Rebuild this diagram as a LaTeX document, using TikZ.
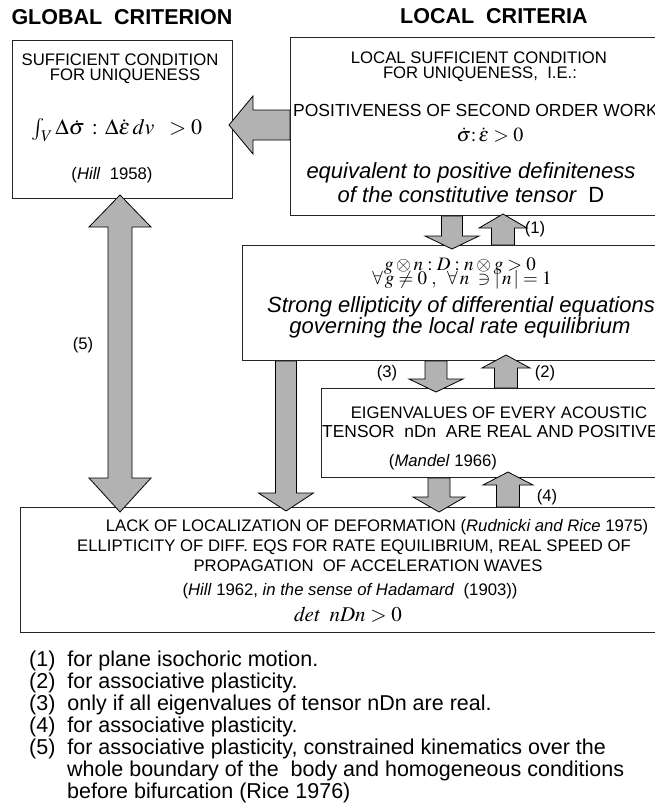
\documentclass[tikz,border=0pt]{standalone}
\usepackage{mathptmx}
\usepackage[no-math]{fontspec}
\setmainfont{Liberation Sans}
\usetikzlibrary{calc}
\definecolor{arrowgray}{gray}{0.70}
\newcommand\vbarrow[6]{% #1 x, #2 tail, #3 tip, #4 shaft half, #5 head half, #6 head length
  \filldraw[barrow] let \p1=(#2), \p2=(#3), \n1={sign(\y2-\y1)} in
   (#1-#4,\y1) -- (#1-#4,\y2-\n1*#6) -- (#1-#5,\y2-\n1*#6) -- (#1,\y2)
   -- (#1+#5,\y2-\n1*#6) -- (#1+#4,\y2-\n1*#6) -- (#1+#4,\y1) -- cycle;}
\tikzset{
  boxline/.style={draw=black!85, line width=0.9pt, inner sep=0pt, anchor=north west},
  barrow/.style={fill=arrowgray, draw=black, line width=0.8pt, line join=miter},
  body/.style={font=\fontsize{16.7}{20}\selectfont, inner sep=0pt},
  bigbody/.style={font=\fontsize{17.5}{21}\selectfont, inner sep=0pt},
  ital/.style={font=\fontsize{22}{26}\selectfont\itshape, inner sep=0pt},
  mth/.style={font=\fontsize{20}{24}\selectfont, inner sep=0pt},
  foot/.style={font=\fontsize{21.5}{24}\selectfont, anchor=base west, inner sep=0pt},
  ttl/.style={font=\fontsize{21.5}{24}\selectfont\bfseries, inner sep=0pt},
  lbl/.style={font=\fontsize{16.7}{20}\selectfont, inner sep=0pt},
}
\begin{document}
\begin{tikzpicture}[x=1pt,y=-1pt]
\useasboundingbox (0,0) rectangle (655,809);
\clip (0,0) rectangle (655,809);
\fill[white] (0,0) rectangle (655,809);

% titles
\node[ttl] (tglobal) at (122,17) {GLOBAL\ \ CRITERION};
\node[ttl] (tlocal) at (494,16) {LOCAL\ \ CRITERIA};

% boxes
\node[boxline, minimum width=220pt, minimum height=158pt] (box1) at (12,40) {};
\node[boxline, minimum width=372pt, minimum height=178pt] (box2) at (290,37) {};
\node[boxline, minimum width=420pt, minimum height=115pt] (box3) at (242,245) {};
\node[boxline, minimum width=341pt, minimum height=89pt] (box4) at (321,388) {};
\node[boxline, minimum width=642pt, minimum height=125pt] (box5) at (20,507) {};

% box 1 text
\node[body] (b1a) at (120,60) {SUFFICIENT CONDITION};
\node[body] (b1b) at (125,76) {FOR UNIQUENESS};
\node[mth, font=\fontsize{22}{26}\selectfont] (b1c) at (117,130) {$\int_{V}\Delta\dot{\sigma}\,:\,\Delta\dot{\varepsilon}\,dv\;\;>0$};
\node[body] (b1d) at (112,175) {(\textit{Hill}\ \ 1958)};

% box 2 text
\node[body] (b2a) at (479,58) {LOCAL SUFFICIENT CONDITION};
\node[body] (b2b) at (480,74) {FOR UNIQUENESS,\ \ I.E.:};
\node[bigbody, anchor=west] (b2c) at (293,110) {POSITIVENESS OF SECOND ORDER WORK};
\node[mth] (b2d) at (490,135) {$\dot{\sigma}\mathpunct{:}\dot{\varepsilon}>0$};
\node[ital] (b2e) at (471,173) {equivalent to positive definiteness};
\node[ital] (b2f) at (471,195) {of the constitutive tensor\ \ \upshape D};

% box 3 text
\node[mth, font=\fontsize{19}{22}\selectfont] (b3a) at (460,266) {$g\otimes n:D:n\otimes g>0$};
\node[mth, font=\fontsize{19}{22}\selectfont] (b3b) at (462,280) {$\forall\,g\neq 0\;,\;\;\forall\,n\;\ni|\,n\,|=1$};
\node[ital] (b3c) at (461,307) {Strong ellipticity of differential equations};
\node[ital] (b3d) at (460,328) {governing the local rate equilibrium};

% box 4 text
\node[body] (b4a) at (499,413) {EIGENVALUES OF EVERY ACOUSTIC};
\node[body, font=\fontsize{17.4}{20}\selectfont, anchor=west] (b4b) at (322,432) {TENSOR\ \ nDn\ \ ARE REAL AND POSITIVE};
\node[body] (b4c) at (443,462) {(\textit{Mandel}\ 1966)};

% box 5 text
\node[body] (b5a) at (377,527) {LACK OF LOCALIZATION OF DEFORMATION (\textit{Rudnicki and Rice} 1975)};
\node[body] (b5b) at (354,547) {ELLIPTICITY OF DIFF. EQS FOR RATE EQUILIBRIUM, REAL SPEED OF};
\node[body] (b5c) at (368,566) {PROPAGATION\ \ OF ACCELERATION WAVES};
\node[body] (b5d) at (350,591) {(\textit{Hill} 1962, \textit{in the sense of Hadamard}\ \ (1903))};
\node[mth, font=\fontsize{21}{24}\selectfont] (b5e) at (348,615) {$\mathit{det}\;\;\mathit{nDn}>0$};

% arrow end coordinates
\coordinate (a1tail) at (290,125);
\coordinate (a1tip) at (229,125);
\coordinate (t2) at (0,249);
\coordinate (t1) at (0,214);
\coordinate (t3) at (0,392);
\coordinate (t2b) at (0,355);
\coordinate (t4) at (0,512);
\coordinate (t4b) at (0,472);
\coordinate (t5) at (0,511);
\coordinate (t5top) at (120,195);
\coordinate (t5bot) at (120,512);

% block arrows
\filldraw[barrow] let \p1=(a1tail), \p2=(a1tip) in
  (\x1,\y1+15) -- (\x1-37,\y1+15) -- (\x1-37,\y1+29) -- (\x2,\y2)
  -- (\x1-37,\y1-29) -- (\x1-37,\y1-15) -- (\x1,\y1-15) -- cycle;
\vbarrow{452}{box2.south}{t2}{10.5}{27}{13}
\vbarrow{503}{box3.north}{t1}{11.5}{24}{14}
\vbarrow{436}{box3.south}{t3}{11}{27}{13}
\vbarrow{506}{box4.north}{t2b}{11.5}{24}{13}
\vbarrow{439}{box4.south}{t4}{11}{26}{15}
\vbarrow{508}{box5.north}{t4b}{11.5}{25}{13}
\vbarrow{286}{box3.south}{t5}{10.5}{27.5}{18}
% double arrow (5)
\filldraw[barrow] let \p1=(t5top), \p2=(t5bot) in
  (\x1,\y1) -- (\x1+31,\y1-32) -- (\x1+12,\y1-32) -- (\x1+12,\y2+34)
  -- (\x1+31,\y2+34) -- (\x2,\y2) -- (\x1-31,\y2+34) -- (\x1-12,\y2+34)
  -- (\x1-12,\y1-32) -- (\x1-31,\y1-32) -- cycle;

% labels
\node[lbl] (l1) at (535,229) {(1)};
\node[lbl] (l2) at (545,373) {(2)};
\node[lbl] (l3) at (387,373) {(3)};
\node[lbl] (l4) at (547,497) {(4)};
\node[lbl] (l5) at (83,345) {(5)};

% footnotes
\node[foot] (f1) at (29,666) {(1)\ \ for plane isochoric motion.};
\node[foot] (f2) at (29,688) {(2)\ \ for associative plasticity.};
\node[foot] (f3) at (29,710) {(3)\ \ only if all eigenvalues of tensor nDn are real.};
\node[foot] (f4) at (29,732) {(4)\ \ for associative plasticity.};
\node[foot] (f5) at (29,754) {(5)\ \ for associative plasticity, constrained kinematics over the};
\node[foot] (f6) at (67,776) {whole boundary of the\ \ body and homogeneous conditions};
\node[foot] (f7) at (67,798) {before bifurcation (Rice 1976)};
\end{tikzpicture}
\end{document}
